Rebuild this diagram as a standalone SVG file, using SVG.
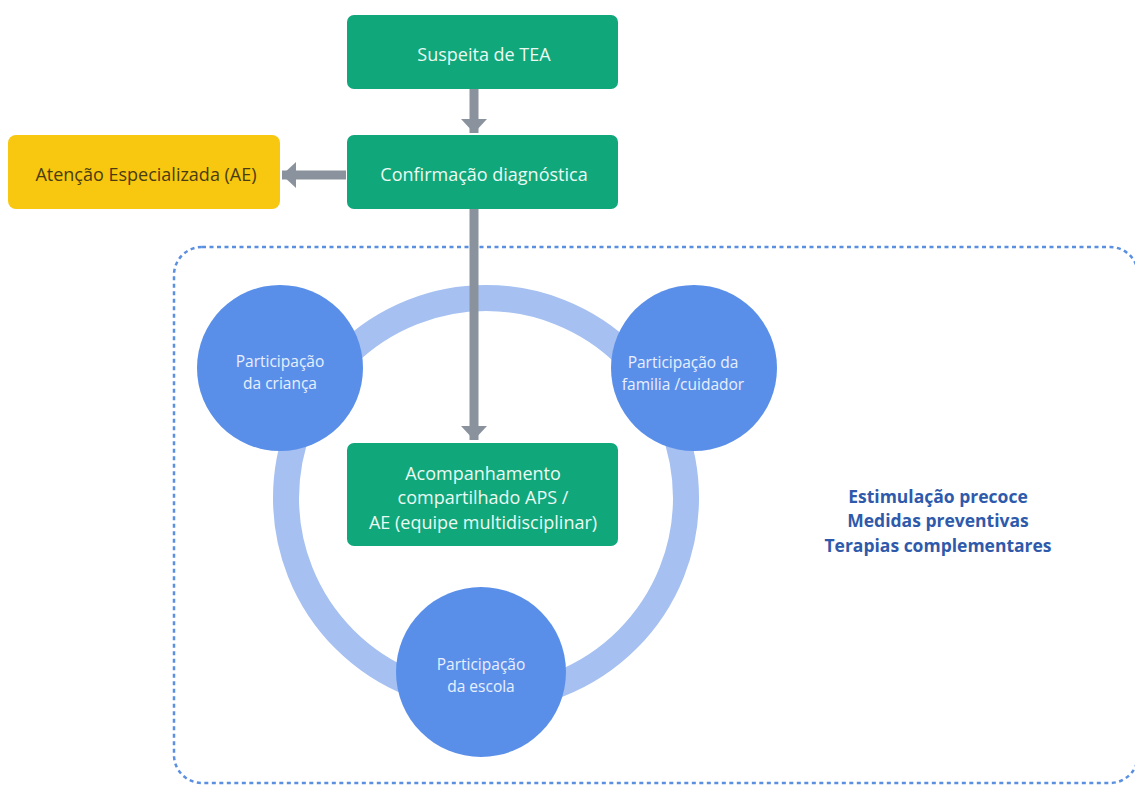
<svg xmlns="http://www.w3.org/2000/svg" width="1135" height="787" viewBox="0 0 1135 787">
<style>
.box{fill:#10a77b}
.bt{font-family:"Open Sans",Lato,sans-serif;font-size:18px;fill:#eafaf3;text-anchor:middle}
.ct{font-family:"Open Sans",Lato,sans-serif;font-size:15.5px;fill:#e8efff;text-anchor:middle}
.circ{fill:#5a8fe9}
.conn{stroke:#8a939d;stroke-width:9;fill:none}
.rt{font-family:"Open Sans",Lato,sans-serif;font-size:17.5px;font-weight:bold;fill:#2f5aab;text-anchor:middle}
</style>
<defs>
<marker id="ah" markerWidth="28" markerHeight="28" refX="14" refY="14" orient="auto" markerUnits="userSpaceOnUse">
<path d="M0,1 L14,14 L0,27 Z" fill="#8a939d"/>
</marker>
</defs>
<rect x="0" y="0" width="1135" height="787" fill="#ffffff"/>
<rect x="174" y="247" width="964" height="536" rx="28" fill="none" stroke="#5b8fe0" stroke-width="2.5" stroke-dasharray="4 3.5"/>
<circle cx="486" cy="498" r="200" fill="none" stroke="#a5c0f1" stroke-width="26"/>
<g id="connectors">
<line class="conn" x1="474" y1="89" x2="474" y2="133" marker-end="url(#ah)"/>
<line class="conn" x1="346" y1="175" x2="282" y2="175" marker-end="url(#ah)"/>
<line class="conn" x1="474" y1="209" x2="474" y2="440" marker-end="url(#ah)"/>
</g>
<g id="suspeita">
<rect class="box" x="347" y="15" width="271" height="74" rx="7"/>
<text class="bt" x="484" y="61">Suspeita de TEA</text>
</g>
<g id="confirmacao">
<rect class="box" x="347" y="135" width="271" height="74" rx="7"/>
<text class="bt" x="484" y="181">Confirmação diagnóstica</text>
</g>
<g id="atencao">
<rect x="8" y="135" width="272" height="74" rx="8" fill="#f8c70f"/>
<text class="bt" x="146" y="181" style="fill:#4a3c12">Atenção Especializada (AE)</text>
</g>
<g id="acompanhamento">
<rect class="box" x="347" y="443" width="271" height="103" rx="7"/>
<text class="bt" x="483" y="480">Acompanhamento</text>
<text class="bt" x="483" y="504">compartilhado APS /</text>
<text class="bt" x="483" y="529">AE (equipe multidisciplinar)</text>
</g>
<g id="crianca">
<circle class="circ" cx="280" cy="368" r="83"/>
<text class="ct" x="280" y="367">Participação</text>
<text class="ct" x="280" y="389">da criança</text>
</g>
<g id="familia">
<circle class="circ" cx="694" cy="368" r="83"/>
<text class="ct" x="683" y="368">Participação da</text>
<text class="ct" x="683" y="390">familia /cuidador</text>
</g>
<g id="escola">
<circle class="circ" cx="481" cy="672" r="85"/>
<text class="ct" x="481" y="670">Participação</text>
<text class="ct" x="481" y="692">da escola</text>
</g>
<g id="lista">
<text class="rt" x="938" y="503">Estimulação precoce</text>
<text class="rt" x="938" y="527">Medidas preventivas</text>
<text class="rt" x="938" y="552">Terapias complementares</text>
</g>
</svg>
